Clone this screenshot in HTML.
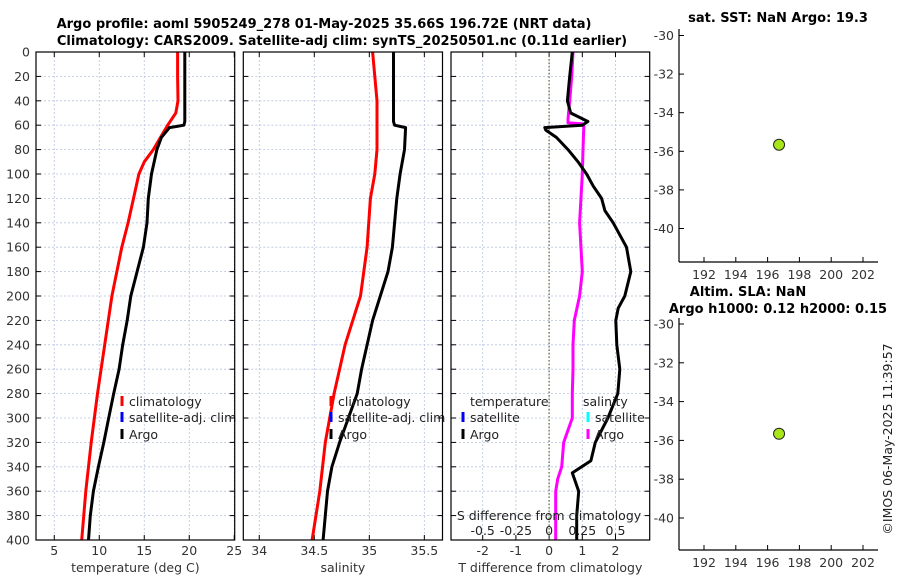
<!DOCTYPE html>
<html><head><meta charset="utf-8"><style>
body{margin:0;background:#fff;}
svg{display:block;font-family:"DejaVu Sans","Liberation Sans",sans-serif;}
</style></head><body>
<svg id="fig" width="900" height="580" viewBox="0 0 900 580" xmlns="http://www.w3.org/2000/svg">
<text x="324" y="28" text-anchor="middle" font-size="13" font-weight="bold">Argo profile: aoml 5905249_278 01-May-2025 35.66S 196.72E (NRT data)</text>
<text x="342" y="45" text-anchor="middle" font-size="13" font-weight="bold">Climatology: CARS2009. Satellite-adj clim: synTS_20250501.nc (0.11d earlier)</text>
<text x="778" y="22" text-anchor="middle" font-size="13" font-weight="bold">sat. SST: NaN Argo: 19.3</text>
<text x="748" y="296" text-anchor="middle" font-size="13" font-weight="bold">Altim. SLA: NaN</text>
<text x="778" y="313" text-anchor="middle" font-size="13" font-weight="bold">Argo h1000: 0.12 h2000: 0.15</text>
<text transform="translate(892,439) rotate(-90)" text-anchor="middle" font-size="12.5" fill="#222">©IMOS 06-May-2025 11:39:57</text>
</svg>
<script>
// ---- data ----
const tempClimDepth = [0,20,40,50,60,70,80,90,100,120,140,160,200,240,280,320,360,400];
const tempClim      = [18.7,18.7,18.75,18.5,17.6,16.8,16.0,15.0,14.4,13.8,13.2,12.5,11.4,10.6,9.8,9.1,8.5,8.05];
const tempArgoDepth = [0,20,40,57,60,62,70,80,100,120,140,160,180,200,220,240,260,280,300,320,340,360,380,400];
const tempArgo      = [19.5,19.5,19.5,19.5,19.4,17.8,16.9,16.4,15.8,15.45,15.3,14.9,14.2,13.5,13.1,12.6,12.2,11.6,11.05,10.5,9.9,9.35,9.0,8.8];
const salClimDepth = [0,20,40,60,80,100,120,160,200,240,280,320,360,400];
const salClim      = [35.03,35.05,35.07,35.07,35.07,35.05,35.01,34.98,34.92,34.78,34.68,34.6,34.55,34.48];
const salArgoDepth = [0,20,40,57,60,62,80,100,120,140,160,180,200,220,240,260,280,300,320,340,360,380,400];
const salArgo      = [35.22,35.22,35.22,35.22,35.23,35.33,35.32,35.28,35.25,35.23,35.21,35.17,35.1,35.03,34.98,34.93,34.89,34.81,34.73,34.66,34.62,34.6,34.58];
const tDiffDepth = [0,20,40,50,57,60,62,64,70,80,90,100,110,120,130,140,160,180,200,210,220,240,260,280,300,320,335,345,360,380,400];
const tDiff      = [0.7,0.62,0.55,0.65,1.17,1.0,-0.13,-0.1,0.22,0.57,0.87,1.13,1.33,1.58,1.68,1.93,2.33,2.46,2.28,2.08,2.01,2.04,2.13,2.07,1.77,1.39,1.26,0.7,0.89,0.83,0.83];
const sDiffDepth = [0,20,40,55,58,59,80,100,140,180,200,220,240,260,280,300,320,340,350,360,400];
const sDiff      = [0.18,0.17,0.155,0.142,0.142,0.262,0.255,0.25,0.23,0.25,0.23,0.19,0.18,0.18,0.175,0.175,0.11,0.095,0.065,0.05,0.05];
const depthTicks = [0,20,40,60,80,100,120,140,160,180,200,220,240,260,280,300,320,340,360,380,400];
const tempTicks = [5,10,15,20,25];
const salTicks = [34,34.5,35,35.5];
const salTickLabels = ["34","34.5","35","35.5"];
const tDiffTicks = [-2,-1,0,1,2];
const sDiffTicks = [-0.5,-0.25,0,0.25,0.5];
const sDiffTickLabels = ["-0.5","-0.25","0","0.25","0.5"];
const latTicks = [-30,-32,-34,-36,-38,-40];
const lonTicks = [192,194,196,198,200,202];
const argoLon = [196.72];
const argoLat = [-35.66];

const NS="http://www.w3.org/2000/svg";
const svg=document.getElementById('fig');
function el(tag,attrs,parent,text){const e=document.createElementNS(NS,tag);for(const k in attrs)e.setAttribute(k,attrs[k]);if(text!==undefined)e.textContent=text;(parent||svg).appendChild(e);return e;}
function lin(d0,d1,r0,r1){return v=>r0+(v-d0)*(r1-r0)/(d1-d0);}
const yD=lin(0,400,52,540);
const TOP=52,BOT=540;

function panel(name,x0,x1,xs,ticks,labels,showY,xTitle){
  const g=el('g',{});
  
  
  depthTicks.forEach(d=>{const l=el('line',{x1:x0,x2:x1,y1:yD(d),y2:yD(d),stroke:'#b8c4e0','stroke-width':0.8,'stroke-dasharray':'2,2'},g);
    });
  ticks.forEach((t,i)=>{const x=xs(t);
    const l=el('line',{x1:x,x2:x,y1:TOP,y2:BOT,stroke:'#b8c4e0','stroke-width':0.8,'stroke-dasharray':'2,2'},g);
    
    el('line',{x1:x,x2:x,y1:BOT,y2:BOT-5,stroke:'#000'},g);el('line',{x1:x,x2:x,y1:TOP,y2:TOP+5,stroke:'#000'},g);
    const tx=el('text',{x:x,y:555,'text-anchor':'middle','font-size':12.5,fill:'#333'},g,labels?labels[i]:String(t));
    
  });
  depthTicks.forEach(d=>{el('line',{x1:x0,x2:x0+5,y1:yD(d),y2:yD(d),stroke:'#000'},g);el('line',{x1:x1,x2:x1-5,y1:yD(d),y2:yD(d),stroke:'#000'},g);
    if(showY){const tx=el('text',{x:30,y:yD(d)+4.5,'text-anchor':'end','font-size':12.5,fill:'#333'},g,String(d));
      }});
  const xt=el('text',{x:(x0+x1)/2,y:572,'text-anchor':'middle','font-size':12.5,fill:'#333'},g,xTitle);
  
  return g;
}
function line(g,name,xs,vals,depths,color){
  const pts=vals.map((v,i)=>xs(v).toFixed(1)+','+yD(depths[i]).toFixed(1)).join(' ');
  const p=el('polyline',{points:pts,fill:'none',stroke:color,'stroke-width':3,'stroke-linejoin':'round'},g);
  
}
function box(g,x0,x1){const r=el('rect',{x:x0,y:TOP,width:x1-x0,height:BOT-TOP,fill:'none',stroke:'#000','stroke-width':1.2},g);
  }
function legend(g,x,y,color,label){
  el('rect',{x:x-1.5,y:y-10,width:3,height:10,fill:color},g);
  const t=el('text',{x:x+7,y:y,'font-size':12.5,fill:'#222'},g,label);
  
}

// Panel 1
const xT=lin(2.97,25.05,36,234.7);
const g1=panel('temperature-panel',36,234.7,xT,tempTicks,null,true,'temperature (deg C)');
line(g1,'temp-climatology-line',xT,tempClim,tempClimDepth,'#ff0000');
line(g1,'temp-argo-line',xT,tempArgo,tempArgoDepth,'#000');
legend(g1,122,406,'#ff0000','climatology');legend(g1,122,422,'#0000ff','satellite-adj. clim');legend(g1,122,439,'#000','Argo');
box(g1,36,234.7);

// Panel 2
const xS=lin(33.855,35.665,243.3,442.5);
const g2=panel('salinity-panel',243.3,442.5,xS,salTicks,salTickLabels,false,'salinity');
line(g2,'sal-climatology-line',xS,salClim,salClimDepth,'#ff0000');
line(g2,'sal-argo-line',xS,salArgo,salArgoDepth,'#000');
legend(g2,331,406,'#ff0000','climatology');legend(g2,331,422,'#0000ff','satellite-adj. clim');legend(g2,331,439,'#000','Argo');
box(g2,243.3,442.5);

// Panel 3
const xTD=lin(-2.955,3.03,451,649.7);
const xSD=v=>xTD(v*4);
const g3=panel('difference-panel',451,649.7,xTD,tDiffTicks,null,false,'T difference from climatology');
const z=el('line',{x1:xTD(0),x2:xTD(0),y1:TOP,y2:BOT,stroke:'#556b2f','stroke-width':1.2,'stroke-dasharray':'1.5,2'},g3);

line(g3,'s-diff-argo-line',xSD,sDiff,sDiffDepth,'#ff00ff');
line(g3,'t-diff-argo-line',xTD,tDiff,tDiffDepth,'#000');
const lt=el('text',{x:470,y:406,'font-size':12.5,fill:'#222'},g3,'temperature');
legend(g3,463,422,'#0000ff','satellite');legend(g3,463,439,'#000','Argo');
const ls=el('text',{x:583,y:406,'font-size':12.5,fill:'#222'},g3,'salinity');
legend(g3,588,422,'#00ffff','satellite');legend(g3,588,439,'#ff00ff','Argo');
const st=el('text',{x:549,y:520,'text-anchor':'middle','font-size':12.5,fill:'#222'},g3,'S difference from climatology');

sDiffTicks.forEach((t,i)=>{const tx=el('text',{x:xSD(t),y:535,'text-anchor':'middle','font-size':12.5,fill:'#222'},g3,sDiffTickLabels[i]);
  });
box(g3,451,649.7);

// Maps
function mapPanel(name,yTop,yBot,lat30y,lat40y){
  const g=el('g',{});
  
  
  const yL=lin(-30,-40,lat30y,lat40y);
  const xL=lin(192,202,704,863);
  el('line',{x1:679,x2:679,y1:yTop,y2:yBot,stroke:'#000','stroke-width':1.2},g);
  el('line',{x1:679,x2:878,y1:yBot,y2:yBot,stroke:'#000','stroke-width':1.2},g);
  latTicks.forEach(t=>{el('line',{x1:679,x2:684,y1:yL(t),y2:yL(t),stroke:'#000'},g);
    const tx=el('text',{x:674,y:yL(t)+4.5,'text-anchor':'end','font-size':12.5,fill:'#333'},g,String(t));
    });
  lonTicks.forEach(t=>{el('line',{x1:xL(t),x2:xL(t),y1:yBot,y2:yBot-5,stroke:'#000'},g);
    const tx=el('text',{x:xL(t),y:yBot+17,'text-anchor':'middle','font-size':12.5,fill:'#333'},g,String(t));
    });
  argoLon.forEach((lo,i)=>{const c=el('circle',{cx:xL(lo),cy:yL(argoLat[i]),r:5.5,fill:'#a8e619',stroke:'#222','stroke-width':1},g);
    });
}
mapPanel('sst-map',29,262,35.5,228.5);
mapPanel('sla-map',318,550,324,518);
</script>
</body></html>
